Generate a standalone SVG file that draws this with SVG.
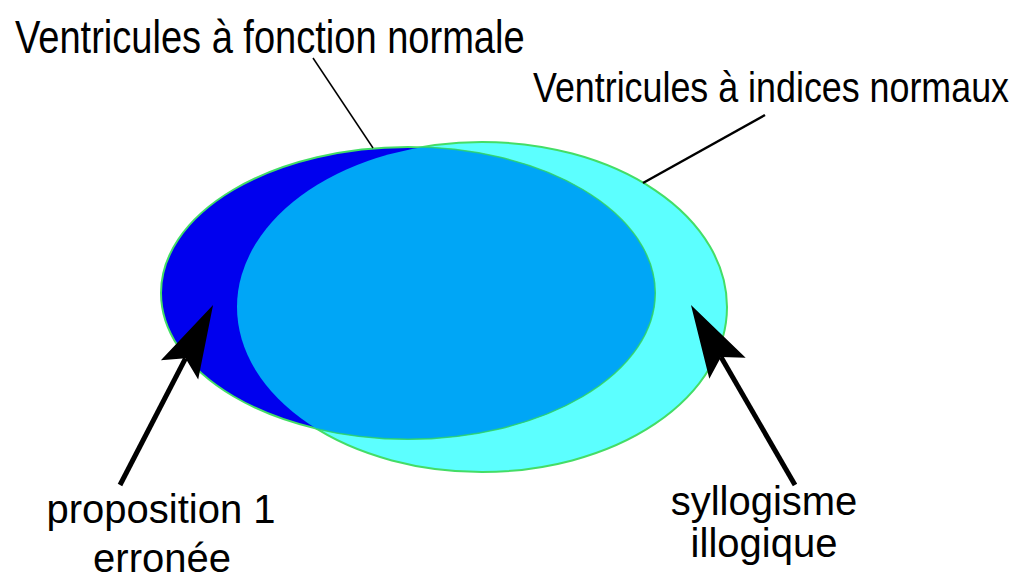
<svg xmlns="http://www.w3.org/2000/svg" width="1025" height="582" viewBox="0 0 1025 582">
<style>
.lbl{font-family:"Liberation Sans",Arial,sans-serif;fill:#000}
.title{font-size:47px}
.title2{font-size:43px}
.note{font-size:40px;text-anchor:middle}
.out{stroke:#44dd66;stroke-width:2}
.lead{stroke:#000;fill:none}
.arr{stroke:#000;stroke-width:5;fill:none;marker-end:url(#head)}
</style>
<defs>
<marker id="head" markerUnits="userSpaceOnUse" markerWidth="80" markerHeight="50" refX="13" refY="21" orient="auto" overflow="visible">
<path d="M73,21 L0,0 L13,21 L0,42 Z" fill="#000"/>
</marker>
<clipPath id="clipCyan"><ellipse cx="482" cy="307" rx="245" ry="165"/></clipPath>
</defs>
<g id="set-indices">
<ellipse cx="482" cy="307" rx="245" ry="165" fill="#5cffff" class="out"/>
</g>
<g id="set-fonction">
<ellipse cx="408" cy="293" rx="247" ry="146" fill="#0000ee" class="out"/>
</g>
<g id="intersection">
<ellipse cx="408" cy="293" rx="247" ry="146" fill="#00a6f6" clip-path="url(#clipCyan)" stroke="#22cc88" stroke-width="1"/>
</g>
<g id="connectors">
<line class="lead" x1="313" y1="58" x2="373" y2="148" stroke-width="1.5"/>
<line class="lead" x1="643" y1="183" x2="765" y2="115" stroke-width="2.5"/>
<line class="arr" x1="120" y1="485" x2="185.5" y2="358.3"/>
<line class="arr" x1="795" y1="485" x2="721" y2="357"/>
</g>
<g id="label-fonction">
<text class="lbl title" transform="translate(15,53) scale(0.8,1)" x="0" y="0" textLength="637" lengthAdjust="spacingAndGlyphs">Ventricules à fonction normale</text>
</g>
<g id="label-indices">
<text class="lbl title2" transform="translate(533,102) scale(0.8,1)" x="0" y="0" textLength="595" lengthAdjust="spacingAndGlyphs">Ventricules à indices normaux</text>
</g>
<g id="label-proposition">
<text class="lbl note" x="161" y="523">proposition 1</text>
<text class="lbl note" x="162" y="572">erronée</text>
</g>
<g id="label-syllogisme">
<text class="lbl note" x="764" y="515">syllogisme</text>
<text class="lbl note" x="764" y="557">illogique</text>
</g>
</svg>
